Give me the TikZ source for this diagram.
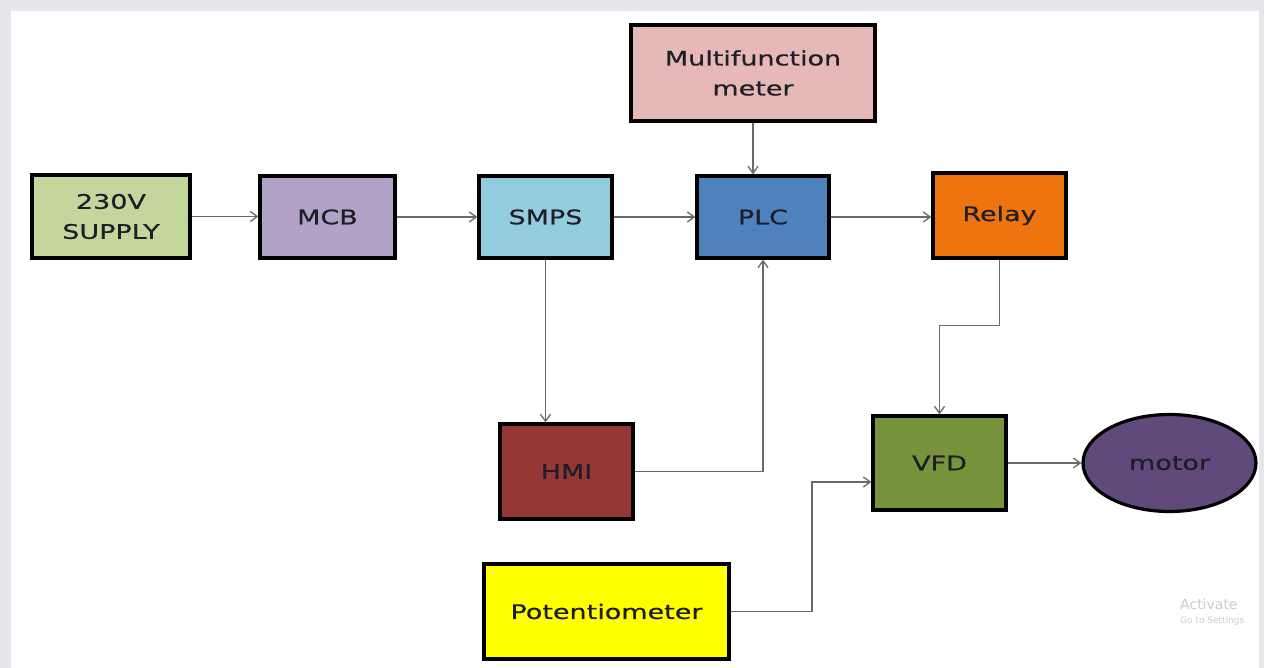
\documentclass[tikz,border=0pt]{standalone}
\usepackage{fontspec}
\setmainfont[FakeStretch=1.35,FakeBold=0.6]{DejaVu Sans}
\newfontfamily\wmfont{DejaVu Sans}
\usetikzlibrary{arrows.meta,shapes.geometric}
\definecolor{bggray}{HTML}{E6E7EC}
\definecolor{cSup}{HTML}{C3D69B}
\definecolor{cMcb}{HTML}{B3A2C7}
\definecolor{cSmps}{HTML}{93CDDD}
\definecolor{cPlc}{HTML}{4F81BD}
\definecolor{cMfm}{HTML}{E6B9B8}
\definecolor{cRelay}{HTML}{EE7410}
\definecolor{cVfd}{HTML}{77933C}
\definecolor{cMotor}{HTML}{604A7B}
\definecolor{cHmi}{HTML}{953735}
\definecolor{cPot}{HTML}{FFFF00}
\definecolor{lineg}{HTML}{6A6A6A}
\definecolor{txt}{HTML}{1E1E28}
\tikzset{
  blk/.style={draw=black, line width=3.2pt, rectangle, inner sep=0pt, align=center,
    font=\fontsize{20}{30}\selectfont, text=txt},
  conn/.style={draw=lineg, line width=1.4pt, -{Straight Barb[length=7pt,width=10pt,line width=1.3pt]}},
  wire/.style={draw=lineg, line width=1.4pt}
}
\begin{document}
\begin{tikzpicture}[x=1pt,y=-1pt]
\useasboundingbox (0,0) rectangle (1264,668);
\fill[bggray] (0,0) rectangle (1264,668);
\fill[white] (11,11) rectangle (1259,668);

\node[blk, fill=cSup, minimum width=158, minimum height=83] (sup) at (111,216.5) {230V\\SUPPLY};
\node[blk, fill=cMcb, minimum width=135, minimum height=82] (mcb) at (327.5,217) {MCB};
\node[blk, fill=cSmps, minimum width=133, minimum height=82] (smps) at (545.5,217) {SMPS};
\node[blk, fill=cPlc, minimum width=132, minimum height=82] (plc) at (763,217) {PLC};
\node[blk, fill=cMfm, minimum width=244, minimum height=96] (mfm) at (753,73) {Multifunction\\meter};
\node[blk, fill=cRelay, minimum width=133, minimum height=85] (relay) at (999.5,215.5) {Relay};
\node[blk, fill=cVfd, minimum width=133, minimum height=94] (vfd) at (939.5,463) {VFD};
\node[blk, ellipse, fill=cMotor, minimum width=173, minimum height=97] (motor) at (1169.5,463) {motor};
\node[blk, fill=cHmi, minimum width=133, minimum height=95] (hmi) at (566.5,471.5) {HMI};
\node[blk, fill=cPot, minimum width=245, minimum height=95] (pot) at (606.5,611.5) {Potentiometer};

\coordinate (pk) at (812,482);

\draw[conn] (sup.east) -- (sup.east -| mcb.west);
\draw[conn] (mcb.east) -- (mcb.east -| smps.west);
\draw[conn] (smps.east) -- (smps.east -| plc.west);
\draw[conn] (plc.east) -- (plc.east -| relay.west);
\draw[conn] (mfm.south) -- (mfm.south |- plc.north);
\draw[conn] (smps.south) -- (smps.south |- hmi.north);
\draw[conn] (hmi.east) -| (plc.south);
\draw[conn] (relay.south) -- ++(0,66) -| (vfd.north);
\draw[conn] (pot.east) -| (pk) -- (pk -| vfd.west);
\draw[conn] (vfd.east) -- (vfd.east -| motor.west);

\begin{scope}
\clip (11,11) rectangle (1259,668);
\node[anchor=west, text=black!20, font=\wmfont\fontsize{14}{14}\selectfont, inner sep=0pt] (wm1) at (1180,604) {Activate};
\node[anchor=west, text=black!20, font=\wmfont\fontsize{9}{9}\selectfont, inner sep=0pt] (wm2) at (1180,621) {Go to Settings};
\end{scope}
\end{tikzpicture}
\end{document}
